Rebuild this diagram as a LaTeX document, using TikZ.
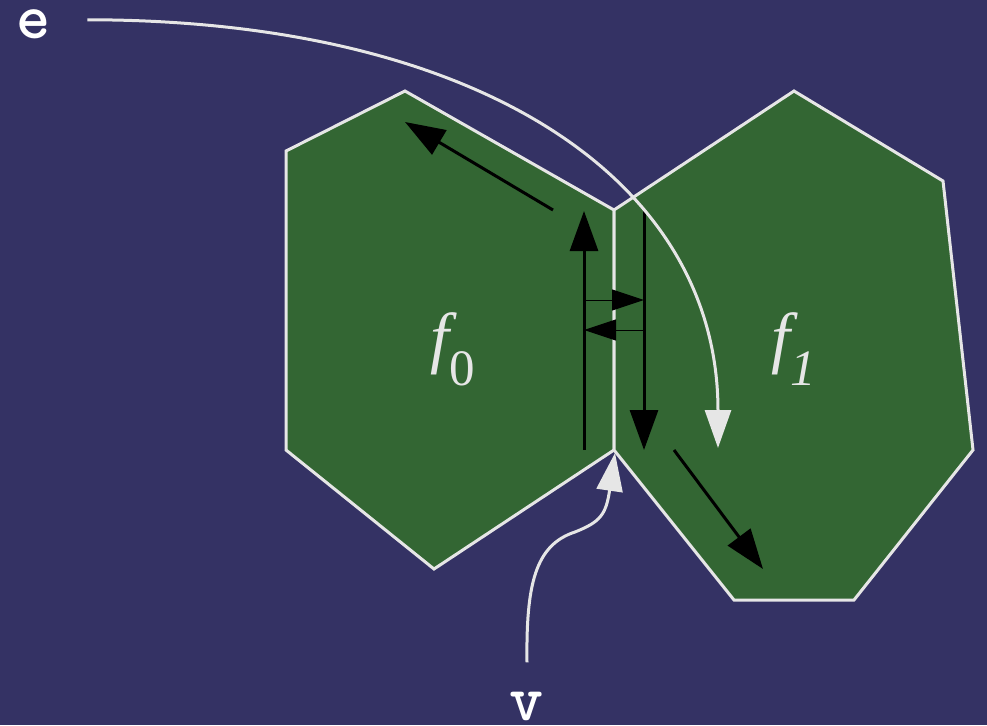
\documentclass[tikz,border=0pt]{standalone}
\usepackage{fontspec}
\newfontfamily\facefont{Liberation Serif}
\usetikzlibrary{arrows.meta}
\definecolor{bgblue}{RGB}{52,50,100}
\definecolor{facegreen}{RGB}{51,102,51}
\definecolor{edgegrey}{RGB}{230,230,230}

\begin{document}
\begin{tikzpicture}[
  x=1pt, y=-1pt,
  face/.style={draw=edgegrey, fill=facegreen, line width=3pt},
  half/.style={-{Triangle[length=40pt, width=28pt]}, line width=3pt},
  twin/.style={-{Triangle[length=32pt, width=21pt]}, line width=1pt},
  ptr/.style={draw=edgegrey, line width=3pt, -{Triangle[length=38pt, width=26pt]}},
  tag/.style={text=white, font=\ttfamily\bfseries\fontsize{65}{65}\selectfont, inner sep=0pt},
  flabel/.style={text=edgegrey, font=\facefont\fontsize{68}{68}\selectfont, inner sep=0pt}
]
\fill[bgblue] (0,0) rectangle (987,725);
\useasboundingbox (0,0) rectangle (987,725);

% the two faces
\draw[face] (405,91) -- (614,210) -- (614,450) -- (434,569) -- (286,450) -- (286,151) -- cycle;
\draw[face] (614,210) -- (794,91) -- (943,181) -- (973,450) -- (854,600) -- (734,600) -- (614,450) -- cycle;

\node[flabel, anchor=base] (f0) at (453,360) {\itshape f\raisebox{-25pt}{\fontsize{51}{51}\selectfont\upshape 0}};
\node[flabel, anchor=base] (f1) at (794,360) {\itshape f\raisebox{-25pt}{\fontsize{51}{51}\selectfont 1}};

% half-edges
\draw[half] (553,210) -- (405,122);
\draw[half] (584,450) -- (584,211);
\draw[half] (644,211) -- (644,450);
\draw[twin] (584,300) -- (644,300);
\draw[twin] (644,330) -- (584,330);
\draw[half] (674,450) -- (763,569);

% pointers
\node[tag, anchor=base] (e) at (34,39) {e};
\node[tag, anchor=base] (v) at (527,720) {v};
\coordinate (e-head) at (718,448);
\coordinate (v-head) at (615,453);
\draw[ptr] ([xshift=36pt, yshift=5pt]e.east) .. controls (480,20) and (718,180) .. (e-head);
\draw[ptr] ([yshift=29pt]v.north) .. controls (526,585) and (535,545) .. (575,532)
  .. controls (600,522) and (606,515) .. (v-head);
\end{tikzpicture}
\end{document}
